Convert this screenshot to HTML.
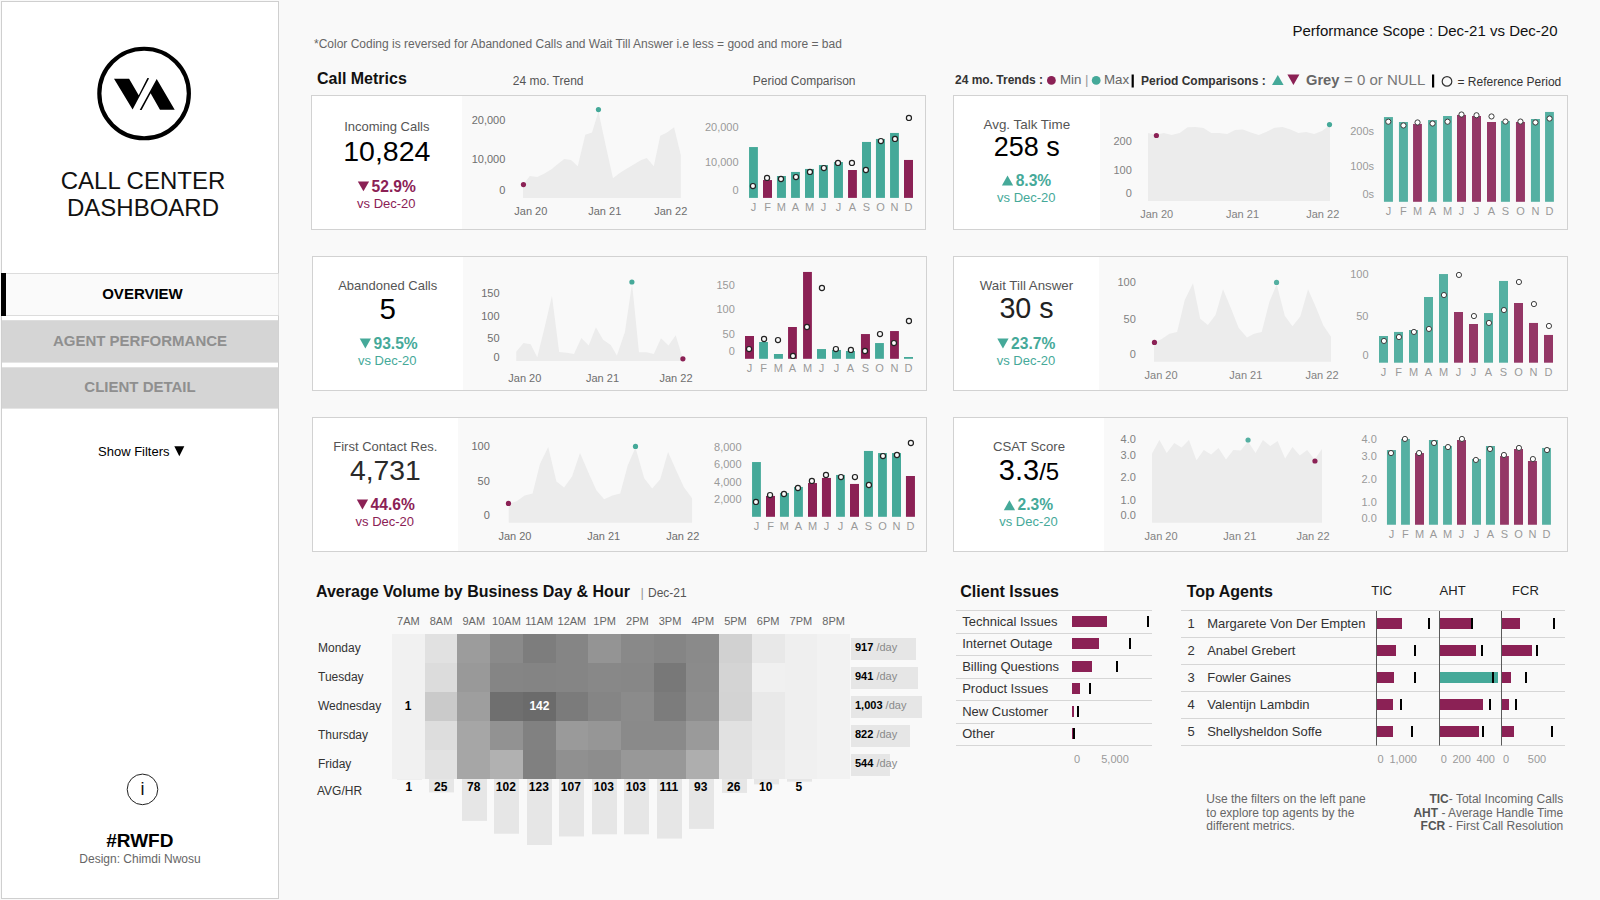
<!DOCTYPE html>
<html lang="en">
<head>
<meta charset="utf-8">
<title>Call Center Dashboard</title>
<style>
html,body{margin:0;padding:0;background:#f9f9f9;}
body{width:1600px;height:900px;overflow:hidden;font-family:"Liberation Sans",sans-serif;}
svg{display:block;font-family:"Liberation Sans",sans-serif;}
svg text{white-space:pre;}
</style>
</head>
<body>
<svg width="1600" height="900" viewBox="0 0 1600 900">
<rect x="0" y="0" width="1600" height="900" fill="#f9f9f9"/>
<rect x="1.5" y="1.5" width="277" height="897" fill="#ffffff" stroke="#cfcfcf" stroke-width="1"/>
<circle cx="144.1" cy="93.5" r="44.75" fill="none" stroke="#000" stroke-width="4.2"/>
<polygon points="114,78.7 129.1,78.7 138.7,95.3 147.4,78 149.1,78.3 132.6,109.6" fill="#000"/>
<polygon points="139.7,110 156.7,79.1 174.7,109.7 160,109.7 150.6,93.3 141.6,110" fill="#000"/>
<text x="143" y="189" font-size="24" fill="#111" text-anchor="middle">CALL CENTER</text>
<text x="143" y="216" font-size="24" fill="#111" text-anchor="middle">DASHBOARD</text>
<rect x="2" y="273.5" width="276.5" height="42" fill="#fafafa"/>
<line x1="2" y1="273.5" x2="278.5" y2="273.5" stroke="#dcdcdc" stroke-width="1"/>
<line x1="2" y1="315.5" x2="278.5" y2="315.5" stroke="#dcdcdc" stroke-width="1"/>
<rect x="1" y="273" width="5" height="43" fill="#000"/>
<text x="142.5" y="299.37" font-size="15" fill="#000" text-anchor="middle" font-weight="bold">OVERVIEW</text>
<rect x="2" y="320.2" width="276.5" height="42.4" fill="#d5d5d5"/>
<text x="140" y="346.17" font-size="15" fill="#8f8f8f" text-anchor="middle" font-weight="bold">AGENT PERFORMANCE</text>
<rect x="2" y="367.3" width="276.5" height="41.3" fill="#d5d5d5"/>
<text x="140" y="392.37" font-size="15" fill="#8f8f8f" text-anchor="middle" font-weight="bold">CLIENT DETAIL</text>
<text x="98" y="455.95" font-size="13" fill="#000">Show Filters</text>
<polygon points="174.3,446.3 184.3,446.3 179.3,456.3" fill="#000"/>
<circle cx="142.5" cy="789.4" r="15.3" fill="#fff" stroke="#222" stroke-width="1"/>
<text x="142.5" y="794.5" font-size="18" fill="#111" text-anchor="middle">i</text>
<text x="139.8" y="847.2" font-size="19" fill="#000" text-anchor="middle" font-weight="bold">#RWFD</text>
<text x="140" y="862.8" font-size="12" fill="#666" text-anchor="middle">Design: Chimdi Nwosu</text>
<text x="314" y="47.5" font-size="12" fill="#666">*Color Coding is reversed for Abandoned Calls and Wait Till Answer i.e less = good and more = bad</text>
<text x="317" y="84" font-size="16" fill="#111" font-weight="bold">Call Metrics</text>
<text x="512.8" y="85" font-size="12" fill="#555">24 mo. Trend</text>
<text x="752.8" y="85" font-size="12" fill="#555">Period Comparison</text>
<text x="1557.5" y="36" font-size="15" fill="#111" text-anchor="end">Performance Scope : Dec-21 vs Dec-20</text>
<text x="955" y="84" font-size="12" fill="#333" font-weight="bold">24 mo. Trends :</text>
<circle cx="1051.4" cy="80.4" r="4.4" fill="#8b2155"/>
<text x="1060" y="84" font-size="13.33" fill="#666">Min</text>
<text x="1085" y="84" font-size="13.33" fill="#999">|</text>
<circle cx="1096.2" cy="80.4" r="4.4" fill="#45a999"/>
<text x="1104" y="84" font-size="13.33" fill="#666">Max</text>
<rect x="1131.6" y="74.5" width="2.2" height="13" fill="#000"/>
<text x="1141" y="84.6" font-size="12" fill="#333" font-weight="bold">Period Comparisons :</text>
<polygon points="1272,85 1283.6,85 1277.8,75" fill="#45a999"/>
<polygon points="1287.4,74.6 1299.4,74.6 1293.4,85" fill="#8b2155"/>
<text x="1306" y="84.6" font-size="14.67" fill="#666" font-weight="bold">Grey</text>
<text x="1344" y="84.6" font-size="15" fill="#777">= 0 or NULL</text>
<rect x="1432" y="74.5" width="2.2" height="13" fill="#000"/>
<circle cx="1447" cy="81.4" r="4.8" fill="none" stroke="#333" stroke-width="1.2"/>
<text x="1457.5" y="85.6" font-size="12" fill="#333">= Reference Period</text>
<rect x="311.5" y="95.5" width="614" height="134" fill="#f9f9f9" stroke="#d2d2d2" stroke-width="1"/>
<rect x="312" y="96" width="150" height="133" fill="#ffffff"/>
<text x="386.8" y="130.8" font-size="13" fill="#555" text-anchor="middle">Incoming Calls</text>
<text x="386.8" y="161" font-size="28.5" fill="#000" text-anchor="middle">10,824</text>
<polygon points="357.8,181.4 369.1,181.4 363.45,191.3" fill="#8b2155"/>
<text x="371.6" y="191.8" font-size="15.6" fill="#8b2155" font-weight="bold">52.9%</text>
<text x="386.3" y="207.8" font-size="13" fill="#8b2155" text-anchor="middle">vs Dec-20</text>
<polygon points="523,197.9 523,185 529.75,176 537.25,177.05 544,173.75 551.5,169.25 557.8,164 564.25,159.05 571,159.95 577.75,166.25 585.25,134.75 592,132.5 598.45,111.5 605.5,144.5 613,178.25 619.75,173 626.5,168.8 633.7,164.45 640.75,160.25 646.75,158 653.8,166.25 660.25,135.8 667,132.5 674.05,127.25 680.8,155 680.8,197.9" fill="#ececec"/>
<circle cx="523.45" cy="184.55" r="2.6" fill="#8b2155"/>
<circle cx="598.45" cy="109.55" r="2.6" fill="#45a999"/>
<text x="505.3" y="124.14" font-size="11" fill="#6e6e6e" text-anchor="end">20,000</text>
<text x="505.3" y="163.14" font-size="11" fill="#6e6e6e" text-anchor="end">10,000</text>
<text x="505.3" y="193.89" font-size="11" fill="#6e6e6e" text-anchor="end">0</text>
<text x="530.8" y="215.19" font-size="11" fill="#6e6e6e" text-anchor="middle">Jan 20</text>
<text x="604.75" y="215.19" font-size="11" fill="#6e6e6e" text-anchor="middle">Jan 21</text>
<text x="670.75" y="215.19" font-size="11" fill="#6e6e6e" text-anchor="middle">Jan 22</text>
<rect x="749.05" y="147.05" width="8.85" height="50.85" fill="#45a999"/>
<text x="753.47" y="210.69" font-size="11" fill="#9a9a9a" text-anchor="middle">J</text>
<rect x="763" y="180.05" width="9" height="17.85" fill="#8b2155"/>
<text x="767.5" y="210.69" font-size="11" fill="#9a9a9a" text-anchor="middle">F</text>
<rect x="776.95" y="176" width="9" height="21.9" fill="#45a999"/>
<text x="781.45" y="210.69" font-size="11" fill="#9a9a9a" text-anchor="middle">M</text>
<rect x="791.05" y="171.95" width="8.85" height="25.95" fill="#45a999"/>
<text x="795.47" y="210.69" font-size="11" fill="#9a9a9a" text-anchor="middle">A</text>
<rect x="805" y="168.95" width="9" height="28.95" fill="#45a999"/>
<text x="809.5" y="210.69" font-size="11" fill="#9a9a9a" text-anchor="middle">M</text>
<rect x="818.95" y="165.05" width="9" height="32.85" fill="#45a999"/>
<text x="823.45" y="210.69" font-size="11" fill="#9a9a9a" text-anchor="middle">J</text>
<rect x="833.95" y="162.05" width="9" height="35.85" fill="#45a999"/>
<text x="838.45" y="210.69" font-size="11" fill="#9a9a9a" text-anchor="middle">J</text>
<rect x="848.05" y="170" width="8.85" height="27.9" fill="#8b2155"/>
<text x="852.47" y="210.69" font-size="11" fill="#9a9a9a" text-anchor="middle">A</text>
<rect x="862" y="141.95" width="9" height="55.95" fill="#45a999"/>
<text x="866.5" y="210.69" font-size="11" fill="#9a9a9a" text-anchor="middle">S</text>
<rect x="875.95" y="138.95" width="9" height="58.95" fill="#45a999"/>
<text x="880.45" y="210.69" font-size="11" fill="#9a9a9a" text-anchor="middle">O</text>
<rect x="890.05" y="132.95" width="8.85" height="64.95" fill="#45a999"/>
<text x="894.47" y="210.69" font-size="11" fill="#9a9a9a" text-anchor="middle">N</text>
<rect x="904" y="159.95" width="9" height="37.95" fill="#8b2155"/>
<text x="908.5" y="210.69" font-size="11" fill="#9a9a9a" text-anchor="middle">D</text>
<circle cx="752.95" cy="186.05" r="2.55" fill="#fbfbfb" stroke="#222" stroke-width="1.2"/>
<circle cx="767.05" cy="177.95" r="2.55" fill="#fbfbfb" stroke="#222" stroke-width="1.2"/>
<circle cx="781" cy="179" r="2.55" fill="#fbfbfb" stroke="#222" stroke-width="1.2"/>
<circle cx="796" cy="177.05" r="2.55" fill="#fbfbfb" stroke="#222" stroke-width="1.2"/>
<circle cx="809.95" cy="171.95" r="2.55" fill="#fbfbfb" stroke="#222" stroke-width="1.2"/>
<circle cx="823.9" cy="168.05" r="2.55" fill="#fbfbfb" stroke="#222" stroke-width="1.2"/>
<circle cx="838" cy="162.95" r="2.55" fill="#fbfbfb" stroke="#222" stroke-width="1.2"/>
<circle cx="851.95" cy="162.95" r="2.55" fill="#fbfbfb" stroke="#222" stroke-width="1.2"/>
<circle cx="865.9" cy="170" r="2.55" fill="#fbfbfb" stroke="#222" stroke-width="1.2"/>
<circle cx="880.9" cy="141.05" r="2.55" fill="#fbfbfb" stroke="#222" stroke-width="1.2"/>
<circle cx="895" cy="138.95" r="2.55" fill="#fbfbfb" stroke="#222" stroke-width="1.2"/>
<circle cx="908.95" cy="117.95" r="2.55" fill="#fbfbfb" stroke="#222" stroke-width="1.2"/>
<text x="738.55" y="131.19" font-size="11" fill="#9a9a9a" text-anchor="end">20,000</text>
<text x="738.55" y="166.14" font-size="11" fill="#9a9a9a" text-anchor="end">10,000</text>
<text x="738.55" y="194.19" font-size="11" fill="#9a9a9a" text-anchor="end">0</text>
<rect x="312.5" y="256.5" width="614" height="134" fill="#f9f9f9" stroke="#d2d2d2" stroke-width="1"/>
<rect x="313" y="257" width="150" height="133" fill="#ffffff"/>
<text x="387.7" y="289.5" font-size="13" fill="#555" text-anchor="middle">Abandoned Calls</text>
<text x="387.7" y="318.7" font-size="29.5" fill="#000" text-anchor="middle">5</text>
<polygon points="359.7,338.6 371,338.6 365.35,348.5" fill="#45a999"/>
<text x="373.5" y="349" font-size="15.6" fill="#45a999" font-weight="bold">93.5%</text>
<text x="387.2" y="365" font-size="13" fill="#45a999" text-anchor="middle">vs Dec-20</text>
<polygon points="516.25,361.05 516.25,351.75 523.45,343.05 530.65,344.25 537.25,357.3 544.9,326.25 551.95,295.8 559.15,352.05 566.95,352.8 574,354 581.35,337.95 588.7,345.45 595.9,327.3 603.1,339.75 610.75,345 616.9,355.5 624.85,332.25 632.05,283.5 638.95,352.2 646.6,352.2 653.8,354 661,338.25 668.5,345.45 675.7,335.25 682.75,358.5 682.75,361.05" fill="#ececec"/>
<circle cx="631.9" cy="282" r="2.6" fill="#45a999"/>
<circle cx="682.9" cy="358.8" r="2.6" fill="#8b2155"/>
<text x="499.6" y="297.19" font-size="11" fill="#6e6e6e" text-anchor="end">150</text>
<text x="499.6" y="320.44" font-size="11" fill="#6e6e6e" text-anchor="end">100</text>
<text x="499.6" y="342.19" font-size="11" fill="#6e6e6e" text-anchor="end">50</text>
<text x="499.6" y="361.39" font-size="11" fill="#6e6e6e" text-anchor="end">0</text>
<text x="524.8" y="381.94" font-size="11" fill="#6e6e6e" text-anchor="middle">Jan 20</text>
<text x="602.5" y="381.94" font-size="11" fill="#6e6e6e" text-anchor="middle">Jan 21</text>
<text x="676" y="381.94" font-size="11" fill="#6e6e6e" text-anchor="middle">Jan 22</text>
<rect x="745" y="336" width="9" height="22.8" fill="#8b2155"/>
<text x="749.5" y="371.74" font-size="11" fill="#9a9a9a" text-anchor="middle">J</text>
<rect x="759.1" y="342" width="8.85" height="16.8" fill="#45a999"/>
<text x="763.53" y="371.74" font-size="11" fill="#9a9a9a" text-anchor="middle">F</text>
<rect x="773.95" y="354" width="9" height="4.8" fill="#45a999"/>
<text x="778.45" y="371.74" font-size="11" fill="#9a9a9a" text-anchor="middle">M</text>
<rect x="788.05" y="327" width="8.85" height="31.8" fill="#8b2155"/>
<text x="792.47" y="371.74" font-size="11" fill="#9a9a9a" text-anchor="middle">A</text>
<rect x="803.05" y="271.95" width="8.85" height="86.85" fill="#8b2155"/>
<text x="807.47" y="371.74" font-size="11" fill="#9a9a9a" text-anchor="middle">M</text>
<rect x="817" y="349.05" width="9" height="9.75" fill="#45a999"/>
<text x="821.5" y="371.74" font-size="11" fill="#9a9a9a" text-anchor="middle">J</text>
<rect x="832" y="349.95" width="9" height="8.85" fill="#45a999"/>
<text x="836.5" y="371.74" font-size="11" fill="#9a9a9a" text-anchor="middle">J</text>
<rect x="845.95" y="351" width="9" height="7.8" fill="#45a999"/>
<text x="850.45" y="371.74" font-size="11" fill="#9a9a9a" text-anchor="middle">A</text>
<rect x="860.95" y="334.05" width="9" height="24.75" fill="#8b2155"/>
<text x="865.45" y="371.74" font-size="11" fill="#9a9a9a" text-anchor="middle">S</text>
<rect x="875.05" y="343.05" width="8.85" height="15.75" fill="#45a999"/>
<text x="879.47" y="371.74" font-size="11" fill="#9a9a9a" text-anchor="middle">O</text>
<rect x="890.05" y="331.05" width="8.85" height="27.75" fill="#8b2155"/>
<text x="894.47" y="371.74" font-size="11" fill="#9a9a9a" text-anchor="middle">N</text>
<rect x="904" y="357" width="9" height="1.8" fill="#45a999"/>
<text x="908.5" y="371.74" font-size="11" fill="#9a9a9a" text-anchor="middle">D</text>
<circle cx="749.05" cy="349.05" r="2.55" fill="#fbfbfb" stroke="#222" stroke-width="1.2"/>
<circle cx="764.05" cy="339" r="2.55" fill="#fbfbfb" stroke="#222" stroke-width="1.2"/>
<circle cx="778" cy="340.05" r="2.55" fill="#fbfbfb" stroke="#222" stroke-width="1.2"/>
<circle cx="793" cy="355.95" r="2.55" fill="#fbfbfb" stroke="#222" stroke-width="1.2"/>
<circle cx="806.95" cy="327" r="2.55" fill="#fbfbfb" stroke="#222" stroke-width="1.2"/>
<circle cx="821.95" cy="288" r="2.55" fill="#fbfbfb" stroke="#222" stroke-width="1.2"/>
<circle cx="835.9" cy="349.05" r="2.55" fill="#fbfbfb" stroke="#222" stroke-width="1.2"/>
<circle cx="850.9" cy="349.95" r="2.55" fill="#fbfbfb" stroke="#222" stroke-width="1.2"/>
<circle cx="865" cy="351" r="2.55" fill="#fbfbfb" stroke="#222" stroke-width="1.2"/>
<circle cx="880" cy="334.05" r="2.55" fill="#fbfbfb" stroke="#222" stroke-width="1.2"/>
<circle cx="893.95" cy="343.05" r="2.55" fill="#fbfbfb" stroke="#222" stroke-width="1.2"/>
<circle cx="908.95" cy="321" r="2.55" fill="#fbfbfb" stroke="#222" stroke-width="1.2"/>
<text x="734.8" y="289.39" font-size="11" fill="#9a9a9a" text-anchor="end">150</text>
<text x="734.8" y="313.24" font-size="11" fill="#9a9a9a" text-anchor="end">100</text>
<text x="734.8" y="338.44" font-size="11" fill="#9a9a9a" text-anchor="end">50</text>
<text x="734.8" y="355.39" font-size="11" fill="#9a9a9a" text-anchor="end">0</text>
<rect x="312.5" y="417.5" width="614" height="134" fill="#f9f9f9" stroke="#d2d2d2" stroke-width="1"/>
<rect x="313" y="418" width="145" height="133" fill="#ffffff"/>
<text x="385.3" y="450.8" font-size="13" fill="#555" text-anchor="middle">First Contact Res.</text>
<text x="385.3" y="480" font-size="28.3" fill="#2a2a2a" text-anchor="middle">4,731</text>
<polygon points="356.8,499.6 368.1,499.6 362.45,509.5" fill="#8b2155"/>
<text x="370.6" y="510" font-size="15.6" fill="#8b2155" font-weight="bold">44.6%</text>
<text x="384.8" y="525.8" font-size="13" fill="#8b2155" text-anchor="middle">vs Dec-20</text>
<polygon points="508.75,522.8 508.75,503.75 516.7,501.2 524.65,495.5 532.6,493.55 539.95,464 548.2,447.05 556.45,481.55 564.1,487.55 572.05,476.45 580,453.05 587.95,471.5 596.35,490.25 604.15,499.25 612.4,495.5 620.2,493.55 627.7,465.5 635.5,447.5 644.2,478.25 652.15,488.45 660.1,479.45 668.05,452 676,470 683.95,487.25 692.05,498.2 692.05,522.8" fill="#ececec"/>
<circle cx="508.45" cy="503.45" r="2.6" fill="#8b2155"/>
<circle cx="635.5" cy="446.45" r="2.6" fill="#45a999"/>
<text x="489.85" y="450.39" font-size="11" fill="#6e6e6e" text-anchor="end">100</text>
<text x="489.85" y="485.49" font-size="11" fill="#6e6e6e" text-anchor="end">50</text>
<text x="489.85" y="519.24" font-size="11" fill="#6e6e6e" text-anchor="end">0</text>
<text x="514.9" y="540.39" font-size="11" fill="#6e6e6e" text-anchor="middle">Jan 20</text>
<text x="603.7" y="540.39" font-size="11" fill="#6e6e6e" text-anchor="middle">Jan 21</text>
<text x="682.75" y="540.39" font-size="11" fill="#6e6e6e" text-anchor="middle">Jan 22</text>
<rect x="752.05" y="462.05" width="8.85" height="54.75" fill="#45a999"/>
<text x="756.47" y="530.19" font-size="11" fill="#9a9a9a" text-anchor="middle">J</text>
<rect x="766" y="495.95" width="9" height="20.85" fill="#8b2155"/>
<text x="770.5" y="530.19" font-size="11" fill="#9a9a9a" text-anchor="middle">F</text>
<rect x="779.95" y="492.95" width="9" height="23.85" fill="#45a999"/>
<text x="784.45" y="530.19" font-size="11" fill="#9a9a9a" text-anchor="middle">M</text>
<rect x="794.05" y="486.95" width="8.85" height="29.85" fill="#45a999"/>
<text x="798.47" y="530.19" font-size="11" fill="#9a9a9a" text-anchor="middle">A</text>
<rect x="808" y="483.05" width="9" height="33.75" fill="#8b2155"/>
<text x="812.5" y="530.19" font-size="11" fill="#9a9a9a" text-anchor="middle">M</text>
<rect x="821.95" y="477.95" width="9" height="38.85" fill="#8b2155"/>
<text x="826.45" y="530.19" font-size="11" fill="#9a9a9a" text-anchor="middle">J</text>
<rect x="836.05" y="474.95" width="8.85" height="41.85" fill="#45a999"/>
<text x="840.47" y="530.19" font-size="11" fill="#9a9a9a" text-anchor="middle">J</text>
<rect x="850" y="483.95" width="9" height="32.85" fill="#8b2155"/>
<text x="854.5" y="530.19" font-size="11" fill="#9a9a9a" text-anchor="middle">A</text>
<rect x="863.95" y="450.95" width="9" height="65.85" fill="#45a999"/>
<text x="868.45" y="530.19" font-size="11" fill="#9a9a9a" text-anchor="middle">S</text>
<rect x="878.05" y="453.05" width="8.85" height="63.75" fill="#45a999"/>
<text x="882.47" y="530.19" font-size="11" fill="#9a9a9a" text-anchor="middle">O</text>
<rect x="892" y="453.05" width="9" height="63.75" fill="#45a999"/>
<text x="896.5" y="530.19" font-size="11" fill="#9a9a9a" text-anchor="middle">N</text>
<rect x="905.95" y="476" width="9" height="40.8" fill="#8b2155"/>
<text x="910.45" y="530.19" font-size="11" fill="#9a9a9a" text-anchor="middle">D</text>
<circle cx="755.95" cy="501.95" r="2.55" fill="#fbfbfb" stroke="#222" stroke-width="1.2"/>
<circle cx="770.05" cy="495.05" r="2.55" fill="#fbfbfb" stroke="#222" stroke-width="1.2"/>
<circle cx="784" cy="494" r="2.55" fill="#fbfbfb" stroke="#222" stroke-width="1.2"/>
<circle cx="797.95" cy="488" r="2.55" fill="#fbfbfb" stroke="#222" stroke-width="1.2"/>
<circle cx="811.9" cy="480.95" r="2.55" fill="#fbfbfb" stroke="#222" stroke-width="1.2"/>
<circle cx="826" cy="474.95" r="2.55" fill="#fbfbfb" stroke="#222" stroke-width="1.2"/>
<circle cx="841" cy="477.05" r="2.55" fill="#fbfbfb" stroke="#222" stroke-width="1.2"/>
<circle cx="854.95" cy="477.05" r="2.55" fill="#fbfbfb" stroke="#222" stroke-width="1.2"/>
<circle cx="868.9" cy="485" r="2.55" fill="#fbfbfb" stroke="#222" stroke-width="1.2"/>
<circle cx="883" cy="456.05" r="2.55" fill="#fbfbfb" stroke="#222" stroke-width="1.2"/>
<circle cx="896.95" cy="455" r="2.55" fill="#fbfbfb" stroke="#222" stroke-width="1.2"/>
<circle cx="910.9" cy="443" r="2.55" fill="#fbfbfb" stroke="#222" stroke-width="1.2"/>
<text x="741.55" y="451.14" font-size="11" fill="#9a9a9a" text-anchor="end">8,000</text>
<text x="741.55" y="468.39" font-size="11" fill="#9a9a9a" text-anchor="end">6,000</text>
<text x="741.55" y="485.94" font-size="11" fill="#9a9a9a" text-anchor="end">4,000</text>
<text x="741.55" y="503.19" font-size="11" fill="#9a9a9a" text-anchor="end">2,000</text>
<rect x="953.5" y="95.5" width="614" height="134" fill="#f9f9f9" stroke="#d2d2d2" stroke-width="1"/>
<rect x="954" y="96" width="146" height="133" fill="#ffffff"/>
<text x="1026.8" y="128.7" font-size="13.4" fill="#555" text-anchor="middle">Avg. Talk Time</text>
<text x="1026.8" y="155.8" font-size="27" fill="#000" text-anchor="middle">258 s</text>
<polygon points="1001.9,185.4 1013.2,185.4 1007.55,175.4" fill="#45a999"/>
<text x="1015.7" y="185.6" font-size="15.6" fill="#45a999" font-weight="bold">8.3%</text>
<text x="1026.3" y="201.6" font-size="13" fill="#45a999" text-anchor="middle">vs Dec-20</text>
<polygon points="1148,200.9 1148,132.95 1155.95,134.75 1163.9,132.95 1171.7,135.05 1179.65,132.95 1187.6,127.25 1195.55,126.95 1203.5,128 1211.3,132.95 1219.25,132.95 1227.2,134 1235,129.95 1242.95,129.5 1250.9,132.5 1258.7,135.05 1266.65,131.75 1274.6,127.7 1282.55,126.95 1290.5,129.5 1298.3,132.95 1306.25,132.05 1314.2,134 1322,131 1329.95,125 1329.95,200.9" fill="#ececec"/>
<circle cx="1156.4" cy="135.5" r="2.6" fill="#8b2155"/>
<circle cx="1329.5" cy="124.55" r="2.6" fill="#45a999"/>
<text x="1131.8" y="145.14" font-size="11" fill="#828282" text-anchor="end">200</text>
<text x="1131.8" y="173.94" font-size="11" fill="#828282" text-anchor="end">100</text>
<text x="1131.8" y="197.19" font-size="11" fill="#828282" text-anchor="end">0</text>
<text x="1156.7" y="218.19" font-size="11" fill="#828282" text-anchor="middle">Jan 20</text>
<text x="1242.5" y="218.19" font-size="11" fill="#828282" text-anchor="middle">Jan 21</text>
<text x="1322.75" y="218.19" font-size="11" fill="#828282" text-anchor="middle">Jan 22</text>
<rect x="1383.95" y="117.05" width="9" height="84.75" fill="#55b0a2"/>
<text x="1388.45" y="215.19" font-size="11" fill="#9a9a9a" text-anchor="middle">J</text>
<rect x="1398.95" y="122" width="9" height="79.8" fill="#55b0a2"/>
<text x="1403.45" y="215.19" font-size="11" fill="#9a9a9a" text-anchor="middle">F</text>
<rect x="1413.05" y="123.95" width="8.85" height="77.85" fill="#943766"/>
<text x="1417.47" y="215.19" font-size="11" fill="#9a9a9a" text-anchor="middle">M</text>
<rect x="1428.05" y="120.05" width="8.85" height="81.75" fill="#55b0a2"/>
<text x="1432.47" y="215.19" font-size="11" fill="#9a9a9a" text-anchor="middle">A</text>
<rect x="1443.05" y="116" width="8.85" height="85.8" fill="#55b0a2"/>
<text x="1447.47" y="215.19" font-size="11" fill="#9a9a9a" text-anchor="middle">M</text>
<rect x="1457" y="114.95" width="9" height="86.85" fill="#943766"/>
<text x="1461.5" y="215.19" font-size="11" fill="#9a9a9a" text-anchor="middle">J</text>
<rect x="1472" y="116" width="9" height="85.8" fill="#943766"/>
<text x="1476.5" y="215.19" font-size="11" fill="#9a9a9a" text-anchor="middle">J</text>
<rect x="1487" y="122" width="9" height="79.8" fill="#943766"/>
<text x="1491.5" y="215.19" font-size="11" fill="#9a9a9a" text-anchor="middle">A</text>
<rect x="1500.95" y="120.95" width="9" height="80.85" fill="#55b0a2"/>
<text x="1505.45" y="215.19" font-size="11" fill="#9a9a9a" text-anchor="middle">S</text>
<rect x="1515.95" y="122" width="9" height="79.8" fill="#943766"/>
<text x="1520.45" y="215.19" font-size="11" fill="#9a9a9a" text-anchor="middle">O</text>
<rect x="1530.95" y="119" width="9" height="82.8" fill="#55b0a2"/>
<text x="1535.45" y="215.19" font-size="11" fill="#9a9a9a" text-anchor="middle">N</text>
<rect x="1545.05" y="111.95" width="8.85" height="89.85" fill="#55b0a2"/>
<text x="1549.47" y="215.19" font-size="11" fill="#9a9a9a" text-anchor="middle">D</text>
<circle cx="1388.3" cy="121.7" r="2.6" fill="#fff" stroke="#333" stroke-width="0.95"/>
<circle cx="1403.45" cy="125.45" r="2.6" fill="#fff" stroke="#333" stroke-width="0.95"/>
<circle cx="1417.55" cy="122.45" r="2.6" fill="#fff" stroke="#333" stroke-width="0.95"/>
<circle cx="1432.55" cy="123.5" r="2.6" fill="#fff" stroke="#333" stroke-width="0.95"/>
<circle cx="1447.55" cy="121.7" r="2.6" fill="#fff" stroke="#333" stroke-width="0.95"/>
<circle cx="1461.5" cy="114.5" r="2.6" fill="#fff" stroke="#333" stroke-width="0.95"/>
<circle cx="1476.5" cy="115.25" r="2.6" fill="#fff" stroke="#333" stroke-width="0.95"/>
<circle cx="1491.5" cy="116.45" r="2.6" fill="#fff" stroke="#333" stroke-width="0.95"/>
<circle cx="1505.45" cy="121.55" r="2.6" fill="#fff" stroke="#333" stroke-width="0.95"/>
<circle cx="1520.45" cy="121.55" r="2.6" fill="#fff" stroke="#333" stroke-width="0.95"/>
<circle cx="1535.45" cy="122.45" r="2.6" fill="#fff" stroke="#333" stroke-width="0.95"/>
<circle cx="1549.55" cy="118.55" r="2.6" fill="#fff" stroke="#333" stroke-width="0.95"/>
<text x="1374.05" y="135.39" font-size="11" fill="#9a9a9a" text-anchor="end">200s</text>
<text x="1374.05" y="170.19" font-size="11" fill="#9a9a9a" text-anchor="end">100s</text>
<text x="1374.05" y="198.24" font-size="11" fill="#9a9a9a" text-anchor="end">0s</text>
<rect x="953.5" y="256.5" width="614" height="134" fill="#f9f9f9" stroke="#d2d2d2" stroke-width="1"/>
<rect x="954" y="257" width="145" height="133" fill="#ffffff"/>
<text x="1026.5" y="289.5" font-size="13.3" fill="#555" text-anchor="middle">Wait Till Answer</text>
<text x="1026.5" y="317.8" font-size="28.7" fill="#222" text-anchor="middle">30 s</text>
<polygon points="997.3,338.6 1008.6,338.6 1002.95,348.5" fill="#45a999"/>
<text x="1011.1" y="349" font-size="15.6" fill="#45a999" font-weight="bold">23.7%</text>
<text x="1026" y="364.5" font-size="13" fill="#45a999" text-anchor="middle">vs Dec-20</text>
<polygon points="1154,361.8 1154,342.75 1161.65,339 1169.45,333.75 1177.1,331.95 1184.75,300 1193,283.2 1200.2,318.75 1207.85,325.05 1215.5,315 1223,289.2 1230.95,308.25 1238.6,327.75 1247,337.5 1254.05,333.75 1261.7,331.95 1269.5,301.5 1276.7,284.25 1284.8,315.75 1292.45,326.25 1300.25,316.5 1308.05,289.2 1315.7,306.75 1323.35,325.5 1331,336.75 1331,361.8" fill="#ececec"/>
<circle cx="1154.45" cy="342.45" r="2.6" fill="#8b2155"/>
<circle cx="1276.55" cy="282.45" r="2.6" fill="#55b0a2"/>
<text x="1135.85" y="286.39" font-size="11" fill="#828282" text-anchor="end">100</text>
<text x="1135.85" y="323.44" font-size="11" fill="#828282" text-anchor="end">50</text>
<text x="1135.85" y="358.24" font-size="11" fill="#828282" text-anchor="end">0</text>
<text x="1161.05" y="379.39" font-size="11" fill="#828282" text-anchor="middle">Jan 20</text>
<text x="1245.8" y="379.39" font-size="11" fill="#828282" text-anchor="middle">Jan 21</text>
<text x="1322" y="379.39" font-size="11" fill="#828282" text-anchor="middle">Jan 22</text>
<rect x="1379" y="336" width="9" height="26.7" fill="#55b0a2"/>
<text x="1383.5" y="375.94" font-size="11" fill="#9a9a9a" text-anchor="middle">J</text>
<rect x="1394" y="331.95" width="9" height="30.75" fill="#55b0a2"/>
<text x="1398.5" y="375.94" font-size="11" fill="#9a9a9a" text-anchor="middle">F</text>
<rect x="1409" y="330" width="9" height="32.7" fill="#55b0a2"/>
<text x="1413.5" y="375.94" font-size="11" fill="#9a9a9a" text-anchor="middle">M</text>
<rect x="1424" y="297" width="9" height="65.7" fill="#55b0a2"/>
<text x="1428.5" y="375.94" font-size="11" fill="#9a9a9a" text-anchor="middle">A</text>
<rect x="1439" y="274.05" width="9" height="88.65" fill="#55b0a2"/>
<text x="1443.5" y="375.94" font-size="11" fill="#9a9a9a" text-anchor="middle">M</text>
<rect x="1454" y="312" width="9" height="50.7" fill="#943766"/>
<text x="1458.5" y="375.94" font-size="11" fill="#9a9a9a" text-anchor="middle">J</text>
<rect x="1469" y="324" width="9" height="38.7" fill="#943766"/>
<text x="1473.5" y="375.94" font-size="11" fill="#9a9a9a" text-anchor="middle">J</text>
<rect x="1484" y="313.05" width="9" height="49.65" fill="#55b0a2"/>
<text x="1488.5" y="375.94" font-size="11" fill="#9a9a9a" text-anchor="middle">A</text>
<rect x="1499" y="280.95" width="9" height="81.75" fill="#55b0a2"/>
<text x="1503.5" y="375.94" font-size="11" fill="#9a9a9a" text-anchor="middle">S</text>
<rect x="1514" y="303" width="9" height="59.7" fill="#943766"/>
<text x="1518.5" y="375.94" font-size="11" fill="#9a9a9a" text-anchor="middle">O</text>
<rect x="1529" y="322.95" width="9" height="39.75" fill="#943766"/>
<text x="1533.5" y="375.94" font-size="11" fill="#9a9a9a" text-anchor="middle">N</text>
<rect x="1544" y="334.95" width="9" height="27.75" fill="#943766"/>
<text x="1548.5" y="375.94" font-size="11" fill="#9a9a9a" text-anchor="middle">D</text>
<circle cx="1383.95" cy="340.95" r="2.6" fill="#fff" stroke="#333" stroke-width="0.95"/>
<circle cx="1398.95" cy="337.05" r="2.6" fill="#fff" stroke="#333" stroke-width="0.95"/>
<circle cx="1413.95" cy="331.95" r="2.6" fill="#fff" stroke="#333" stroke-width="0.95"/>
<circle cx="1428.95" cy="328.95" r="2.6" fill="#fff" stroke="#333" stroke-width="0.95"/>
<circle cx="1443.95" cy="295.05" r="2.6" fill="#fff" stroke="#333" stroke-width="0.95"/>
<circle cx="1458.95" cy="274.95" r="2.6" fill="#fff" stroke="#333" stroke-width="0.95"/>
<circle cx="1473.95" cy="316.05" r="2.6" fill="#fff" stroke="#333" stroke-width="0.95"/>
<circle cx="1488.95" cy="322.95" r="2.6" fill="#fff" stroke="#333" stroke-width="0.95"/>
<circle cx="1503.95" cy="310.05" r="2.6" fill="#fff" stroke="#333" stroke-width="0.95"/>
<circle cx="1518.95" cy="282" r="2.6" fill="#fff" stroke="#333" stroke-width="0.95"/>
<circle cx="1533.95" cy="304.05" r="2.6" fill="#fff" stroke="#333" stroke-width="0.95"/>
<circle cx="1548.95" cy="325.95" r="2.6" fill="#fff" stroke="#333" stroke-width="0.95"/>
<text x="1368.5" y="278.44" font-size="11" fill="#9a9a9a" text-anchor="end">100</text>
<text x="1368.5" y="319.69" font-size="11" fill="#9a9a9a" text-anchor="end">50</text>
<text x="1368.5" y="359.14" font-size="11" fill="#9a9a9a" text-anchor="end">0</text>
<rect x="953.5" y="417.5" width="614" height="134" fill="#f9f9f9" stroke="#d2d2d2" stroke-width="1"/>
<rect x="954" y="418" width="150" height="133" fill="#ffffff"/>
<text x="1029" y="451" font-size="13.2" fill="#555" text-anchor="middle">CSAT Score</text>
<text x="1029" y="479.6" font-size="29" fill="#000" text-anchor="middle">3.3<tspan font-size="24">/5</tspan></text>
<polygon points="1003.8,510.2 1015.1,510.2 1009.45,500.2" fill="#45a999"/>
<text x="1017.6" y="510.4" font-size="15.6" fill="#45a999" font-weight="bold">2.3%</text>
<text x="1028.5" y="525.7" font-size="13" fill="#45a999" text-anchor="middle">vs Dec-20</text>
<polygon points="1152.05,522.8 1152.05,453.5 1159.4,440 1166.75,453.05 1174.25,443 1181.6,447.5 1188.95,440 1196.45,460.25 1203.8,450.05 1211.15,454.55 1218.5,447.95 1226,459.5 1233.35,450.05 1240.7,450.5 1248.05,441.5 1255.55,453.05 1262.9,440 1270.25,446 1277.6,441.05 1285.1,458.45 1292.45,447.05 1299.8,455.45 1307.15,450.05 1314.65,459.5 1322,449 1322,522.8" fill="#ececec"/>
<circle cx="1248.05" cy="440" r="2.6" fill="#55b0a2"/>
<circle cx="1314.95" cy="461" r="2.6" fill="#8b2155"/>
<text x="1135.85" y="443.49" font-size="11" fill="#828282" text-anchor="end">4.0</text>
<text x="1135.85" y="459.39" font-size="11" fill="#828282" text-anchor="end">3.0</text>
<text x="1135.85" y="481.44" font-size="11" fill="#828282" text-anchor="end">2.0</text>
<text x="1135.85" y="503.94" font-size="11" fill="#828282" text-anchor="end">1.0</text>
<text x="1135.85" y="519.24" font-size="11" fill="#828282" text-anchor="end">0.0</text>
<text x="1161.05" y="540.39" font-size="11" fill="#828282" text-anchor="middle">Jan 20</text>
<text x="1239.8" y="540.39" font-size="11" fill="#828282" text-anchor="middle">Jan 21</text>
<text x="1313" y="540.39" font-size="11" fill="#828282" text-anchor="middle">Jan 22</text>
<rect x="1386.95" y="450.05" width="9" height="74.7" fill="#55b0a2"/>
<text x="1391.45" y="537.99" font-size="11" fill="#9a9a9a" text-anchor="middle">J</text>
<rect x="1401.05" y="438.95" width="8.85" height="85.8" fill="#55b0a2"/>
<text x="1405.47" y="537.99" font-size="11" fill="#9a9a9a" text-anchor="middle">F</text>
<rect x="1415" y="453.05" width="9" height="71.7" fill="#943766"/>
<text x="1419.5" y="537.99" font-size="11" fill="#9a9a9a" text-anchor="middle">M</text>
<rect x="1428.95" y="440" width="9" height="84.75" fill="#55b0a2"/>
<text x="1433.45" y="537.99" font-size="11" fill="#9a9a9a" text-anchor="middle">A</text>
<rect x="1443.05" y="446" width="8.85" height="78.75" fill="#55b0a2"/>
<text x="1447.47" y="537.99" font-size="11" fill="#9a9a9a" text-anchor="middle">M</text>
<rect x="1457" y="440" width="9" height="84.75" fill="#943766"/>
<text x="1461.5" y="537.99" font-size="11" fill="#9a9a9a" text-anchor="middle">J</text>
<rect x="1472" y="459.05" width="9" height="65.7" fill="#55b0a2"/>
<text x="1476.5" y="537.99" font-size="11" fill="#9a9a9a" text-anchor="middle">J</text>
<rect x="1485.95" y="446" width="9" height="78.75" fill="#55b0a2"/>
<text x="1490.45" y="537.99" font-size="11" fill="#9a9a9a" text-anchor="middle">A</text>
<rect x="1500.05" y="456.05" width="8.85" height="68.7" fill="#943766"/>
<text x="1504.47" y="537.99" font-size="11" fill="#9a9a9a" text-anchor="middle">S</text>
<rect x="1514" y="449" width="9" height="75.75" fill="#943766"/>
<text x="1518.5" y="537.99" font-size="11" fill="#9a9a9a" text-anchor="middle">O</text>
<rect x="1527.95" y="461" width="9" height="63.75" fill="#943766"/>
<text x="1532.45" y="537.99" font-size="11" fill="#9a9a9a" text-anchor="middle">N</text>
<rect x="1542.05" y="447.95" width="8.85" height="76.8" fill="#55b0a2"/>
<text x="1546.47" y="537.99" font-size="11" fill="#9a9a9a" text-anchor="middle">D</text>
<circle cx="1391" cy="453.05" r="2.6" fill="#fff" stroke="#333" stroke-width="0.95"/>
<circle cx="1404.95" cy="438.95" r="2.6" fill="#fff" stroke="#333" stroke-width="0.95"/>
<circle cx="1419.05" cy="453.05" r="2.6" fill="#fff" stroke="#333" stroke-width="0.95"/>
<circle cx="1434.05" cy="443" r="2.6" fill="#fff" stroke="#333" stroke-width="0.95"/>
<circle cx="1448" cy="447.05" r="2.6" fill="#fff" stroke="#333" stroke-width="0.95"/>
<circle cx="1461.95" cy="438.95" r="2.6" fill="#fff" stroke="#333" stroke-width="0.95"/>
<circle cx="1475.9" cy="459.95" r="2.6" fill="#fff" stroke="#333" stroke-width="0.95"/>
<circle cx="1490" cy="449" r="2.6" fill="#fff" stroke="#333" stroke-width="0.95"/>
<circle cx="1503.95" cy="455" r="2.6" fill="#fff" stroke="#333" stroke-width="0.95"/>
<circle cx="1518.95" cy="447.95" r="2.6" fill="#fff" stroke="#333" stroke-width="0.95"/>
<circle cx="1532.9" cy="459.05" r="2.6" fill="#fff" stroke="#333" stroke-width="0.95"/>
<circle cx="1547" cy="450.05" r="2.6" fill="#fff" stroke="#333" stroke-width="0.95"/>
<text x="1376.75" y="443.19" font-size="11" fill="#9a9a9a" text-anchor="end">4.0</text>
<text x="1376.75" y="460.14" font-size="11" fill="#9a9a9a" text-anchor="end">3.0</text>
<text x="1376.75" y="482.94" font-size="11" fill="#9a9a9a" text-anchor="end">2.0</text>
<text x="1376.75" y="505.89" font-size="11" fill="#9a9a9a" text-anchor="end">1.0</text>
<text x="1376.75" y="521.94" font-size="11" fill="#9a9a9a" text-anchor="end">0.0</text>
<text x="316" y="596.5" font-size="16" fill="#111" font-weight="bold">Average Volume by Business Day &amp; Hour</text>
<text x="640.5" y="597" font-size="13" fill="#999">|</text>
<text x="648" y="597" font-size="12" fill="#555">Dec-21</text>
<text x="408.36" y="624.94" font-size="11" fill="#666" text-anchor="middle">7AM</text>
<text x="441.06" y="624.94" font-size="11" fill="#666" text-anchor="middle">8AM</text>
<text x="473.77" y="624.94" font-size="11" fill="#666" text-anchor="middle">9AM</text>
<text x="506.49" y="624.94" font-size="11" fill="#666" text-anchor="middle">10AM</text>
<text x="539.19" y="624.94" font-size="11" fill="#666" text-anchor="middle">11AM</text>
<text x="571.9" y="624.94" font-size="11" fill="#666" text-anchor="middle">12AM</text>
<text x="604.62" y="624.94" font-size="11" fill="#666" text-anchor="middle">1PM</text>
<text x="637.33" y="624.94" font-size="11" fill="#666" text-anchor="middle">2PM</text>
<text x="670.04" y="624.94" font-size="11" fill="#666" text-anchor="middle">3PM</text>
<text x="702.75" y="624.94" font-size="11" fill="#666" text-anchor="middle">4PM</text>
<text x="735.45" y="624.94" font-size="11" fill="#666" text-anchor="middle">5PM</text>
<text x="768.16" y="624.94" font-size="11" fill="#666" text-anchor="middle">6PM</text>
<text x="800.88" y="624.94" font-size="11" fill="#666" text-anchor="middle">7PM</text>
<text x="833.59" y="624.94" font-size="11" fill="#666" text-anchor="middle">8PM</text>
<rect x="392" y="634" width="33" height="29" fill="#f1f1f1"/>
<rect x="425" y="634" width="32" height="29" fill="#e1e1e1"/>
<rect x="457" y="634" width="33" height="29" fill="#9c9c9c"/>
<rect x="490" y="634" width="33" height="29" fill="#8a8a8a"/>
<rect x="523" y="634" width="33" height="29" fill="#7d7d7d"/>
<rect x="556" y="634" width="32" height="29" fill="#858585"/>
<rect x="588" y="634" width="33" height="29" fill="#949494"/>
<rect x="621" y="634" width="33" height="29" fill="#898989"/>
<rect x="654" y="634" width="32" height="29" fill="#858585"/>
<rect x="686" y="634" width="33" height="29" fill="#8a8a8a"/>
<rect x="719" y="634" width="33" height="29" fill="#d1d1d1"/>
<rect x="752" y="634" width="33" height="29" fill="#e8e8e8"/>
<rect x="785" y="634" width="32" height="29" fill="#efefef"/>
<rect x="817" y="634" width="33" height="29" fill="#f2f2f2"/>
<rect x="392" y="663" width="33" height="29" fill="#f1f1f1"/>
<rect x="425" y="663" width="32" height="29" fill="#dcdcdc"/>
<rect x="457" y="663" width="33" height="29" fill="#999999"/>
<rect x="490" y="663" width="33" height="29" fill="#858585"/>
<rect x="523" y="663" width="33" height="29" fill="#848484"/>
<rect x="556" y="663" width="32" height="29" fill="#858585"/>
<rect x="588" y="663" width="33" height="29" fill="#888888"/>
<rect x="621" y="663" width="33" height="29" fill="#878787"/>
<rect x="654" y="663" width="32" height="29" fill="#787878"/>
<rect x="686" y="663" width="33" height="29" fill="#8b8b8b"/>
<rect x="719" y="663" width="33" height="29" fill="#d4d4d4"/>
<rect x="752" y="663" width="33" height="29" fill="#f0f0f0"/>
<rect x="785" y="663" width="32" height="29" fill="#efefef"/>
<rect x="817" y="663" width="33" height="29" fill="#f2f2f2"/>
<rect x="392" y="692" width="33" height="29" fill="#f1f1f1"/>
<rect x="425" y="692" width="32" height="29" fill="#cacaca"/>
<rect x="457" y="692" width="33" height="29" fill="#9e9e9e"/>
<rect x="490" y="692" width="33" height="29" fill="#6f6f6f"/>
<rect x="523" y="692" width="33" height="29" fill="#6b6b6b"/>
<rect x="556" y="692" width="32" height="29" fill="#7b7b7b"/>
<rect x="588" y="692" width="33" height="29" fill="#858585"/>
<rect x="621" y="692" width="33" height="29" fill="#8b8b8b"/>
<rect x="654" y="692" width="32" height="29" fill="#7c7c7c"/>
<rect x="686" y="692" width="33" height="29" fill="#8d8d8d"/>
<rect x="719" y="692" width="33" height="29" fill="#d3d3d3"/>
<rect x="752" y="692" width="33" height="29" fill="#e9e9e9"/>
<rect x="785" y="692" width="32" height="29" fill="#efefef"/>
<rect x="817" y="692" width="33" height="29" fill="#f2f2f2"/>
<rect x="392" y="721" width="33" height="29" fill="#f1f1f1"/>
<rect x="425" y="721" width="32" height="29" fill="#dddddd"/>
<rect x="457" y="721" width="33" height="29" fill="#a6a6a6"/>
<rect x="490" y="721" width="33" height="29" fill="#929292"/>
<rect x="523" y="721" width="33" height="29" fill="#818181"/>
<rect x="556" y="721" width="32" height="29" fill="#9a9a9a"/>
<rect x="588" y="721" width="33" height="29" fill="#969696"/>
<rect x="621" y="721" width="33" height="29" fill="#8a8a8a"/>
<rect x="654" y="721" width="32" height="29" fill="#8a8a8a"/>
<rect x="686" y="721" width="33" height="29" fill="#9a9a9a"/>
<rect x="719" y="721" width="33" height="29" fill="#e1e1e1"/>
<rect x="752" y="721" width="33" height="29" fill="#e9e9e9"/>
<rect x="785" y="721" width="32" height="29" fill="#efefef"/>
<rect x="817" y="721" width="33" height="29" fill="#f2f2f2"/>
<rect x="392" y="750" width="33" height="29" fill="#f1f1f1"/>
<rect x="425" y="750" width="32" height="29" fill="#e2e2e2"/>
<rect x="457" y="750" width="33" height="29" fill="#a6a6a6"/>
<rect x="490" y="750" width="33" height="29" fill="#b1b1b1"/>
<rect x="523" y="750" width="33" height="29" fill="#808080"/>
<rect x="556" y="750" width="32" height="29" fill="#909090"/>
<rect x="588" y="750" width="33" height="29" fill="#8d8d8d"/>
<rect x="621" y="750" width="33" height="29" fill="#989898"/>
<rect x="654" y="750" width="32" height="29" fill="#989898"/>
<rect x="686" y="750" width="33" height="29" fill="#aeaeae"/>
<rect x="719" y="750" width="33" height="29" fill="#e2e2e2"/>
<rect x="752" y="750" width="33" height="29" fill="#ebebeb"/>
<rect x="785" y="750" width="32" height="29" fill="#f0f0f0"/>
<rect x="817" y="750" width="33" height="29" fill="#f2f2f2"/>
<text x="318" y="651.9" font-size="12" fill="#333">Monday</text>
<text x="318" y="680.9" font-size="12" fill="#333">Tuesday</text>
<text x="318" y="709.9" font-size="12" fill="#333">Wednesday</text>
<text x="318" y="738.9" font-size="12" fill="#333">Thursday</text>
<text x="318" y="767.9" font-size="12" fill="#333">Friday</text>
<text x="317" y="794.7" font-size="12" fill="#333">AVG/HR</text>
<text x="408" y="709.9" font-size="12" fill="#000" text-anchor="middle" font-weight="bold">1</text>
<text x="539.4" y="709.9" font-size="12" fill="#fff" text-anchor="middle" font-weight="bold">142</text>
<rect x="397" y="779" width="25" height="0.54" fill="#e6e6e6"/>
<rect x="429" y="779" width="25" height="13.41" fill="#e6e6e6"/>
<rect x="462" y="779" width="25" height="41.85" fill="#e6e6e6"/>
<rect x="494" y="779" width="25" height="54.73" fill="#e6e6e6"/>
<rect x="527" y="779" width="25" height="66" fill="#e6e6e6"/>
<rect x="559" y="779" width="25" height="57.42" fill="#e6e6e6"/>
<rect x="592" y="779" width="25" height="55.27" fill="#e6e6e6"/>
<rect x="624" y="779" width="25" height="55.27" fill="#e6e6e6"/>
<rect x="657" y="779" width="25" height="59.56" fill="#e6e6e6"/>
<rect x="689" y="779" width="25" height="49.9" fill="#e6e6e6"/>
<rect x="722" y="779" width="25" height="13.95" fill="#e6e6e6"/>
<rect x="754" y="779" width="25" height="5.37" fill="#e6e6e6"/>
<rect x="787" y="779" width="25" height="2.68" fill="#e6e6e6"/>
<text x="408.8" y="790.9" font-size="12" fill="#000" text-anchor="middle" font-weight="bold">1</text>
<text x="440.8" y="790.9" font-size="12" fill="#000" text-anchor="middle" font-weight="bold">25</text>
<text x="473.8" y="790.9" font-size="12" fill="#000" text-anchor="middle" font-weight="bold">78</text>
<text x="505.8" y="790.9" font-size="12" fill="#000" text-anchor="middle" font-weight="bold">102</text>
<text x="538.8" y="790.9" font-size="12" fill="#000" text-anchor="middle" font-weight="bold">123</text>
<text x="570.8" y="790.9" font-size="12" fill="#000" text-anchor="middle" font-weight="bold">107</text>
<text x="603.8" y="790.9" font-size="12" fill="#000" text-anchor="middle" font-weight="bold">103</text>
<text x="635.8" y="790.9" font-size="12" fill="#000" text-anchor="middle" font-weight="bold">103</text>
<text x="668.8" y="790.9" font-size="12" fill="#000" text-anchor="middle" font-weight="bold">111</text>
<text x="700.8" y="790.9" font-size="12" fill="#000" text-anchor="middle" font-weight="bold">93</text>
<text x="733.8" y="790.9" font-size="12" fill="#000" text-anchor="middle" font-weight="bold">26</text>
<text x="765.8" y="790.9" font-size="12" fill="#000" text-anchor="middle" font-weight="bold">10</text>
<text x="798.8" y="790.9" font-size="12" fill="#000" text-anchor="middle" font-weight="bold">5</text>
<rect x="851" y="638" width="65" height="22" fill="#e6e6e6"/>
<text x="855" y="650.64" font-size="11" fill="#000" font-weight="bold">917<tspan font-weight="normal" fill="#8a8a8a"> /day</tspan></text>
<rect x="851" y="667" width="67" height="22" fill="#e6e6e6"/>
<text x="855" y="679.64" font-size="11" fill="#000" font-weight="bold">941<tspan font-weight="normal" fill="#8a8a8a"> /day</tspan></text>
<rect x="851" y="696" width="71" height="22" fill="#e6e6e6"/>
<text x="855" y="708.64" font-size="11" fill="#000" font-weight="bold">1,003<tspan font-weight="normal" fill="#8a8a8a"> /day</tspan></text>
<rect x="851" y="725" width="59" height="22" fill="#e6e6e6"/>
<text x="855" y="737.64" font-size="11" fill="#000" font-weight="bold">822<tspan font-weight="normal" fill="#8a8a8a"> /day</tspan></text>
<rect x="851" y="754" width="39" height="22" fill="#e6e6e6"/>
<text x="855" y="766.64" font-size="11" fill="#000" font-weight="bold">544<tspan font-weight="normal" fill="#8a8a8a"> /day</tspan></text>
<text x="960.3" y="596.8" font-size="16" fill="#111" font-weight="bold">Client Issues</text>
<line x1="956" y1="610.5" x2="1152" y2="610.5" stroke="#d6d6d6" stroke-width="1"/>
<line x1="956" y1="633.5" x2="1152" y2="633.5" stroke="#d6d6d6" stroke-width="1"/>
<line x1="956" y1="655.5" x2="1152" y2="655.5" stroke="#d6d6d6" stroke-width="1"/>
<line x1="956" y1="678.5" x2="1152" y2="678.5" stroke="#d6d6d6" stroke-width="1"/>
<line x1="956" y1="700.5" x2="1152" y2="700.5" stroke="#d6d6d6" stroke-width="1"/>
<line x1="956" y1="723.5" x2="1152" y2="723.5" stroke="#d6d6d6" stroke-width="1"/>
<line x1="956" y1="745.5" x2="1152" y2="745.5" stroke="#d6d6d6" stroke-width="1"/>
<text x="962.2" y="625.85" font-size="13" fill="#333">Technical Issues</text>
<rect x="1072" y="616" width="35" height="11" fill="#8b2155"/>
<rect x="1147" y="616" width="2" height="11" fill="#000"/>
<text x="962.2" y="647.85" font-size="13" fill="#333">Internet Outage</text>
<rect x="1072" y="638" width="27" height="11" fill="#8b2155"/>
<rect x="1129" y="638" width="2" height="11" fill="#000"/>
<text x="962.2" y="670.85" font-size="13" fill="#333">Billing Questions</text>
<rect x="1072" y="661" width="20" height="11" fill="#8b2155"/>
<rect x="1116" y="661" width="2" height="11" fill="#000"/>
<text x="962.2" y="692.85" font-size="13" fill="#333">Product Issues</text>
<rect x="1072" y="683" width="8" height="11" fill="#8b2155"/>
<rect x="1089" y="683" width="2" height="11" fill="#000"/>
<text x="962.2" y="715.85" font-size="13" fill="#333">New Customer</text>
<rect x="1072" y="706" width="2" height="11" fill="#8b2155"/>
<rect x="1077" y="706" width="2" height="11" fill="#000"/>
<text x="962.2" y="737.85" font-size="13" fill="#333">Other</text>
<rect x="1072" y="728" width="1" height="11" fill="#8b2155"/>
<rect x="1073" y="728" width="2" height="11" fill="#000"/>
<text x="1077" y="762.54" font-size="11" fill="#9a9a9a" text-anchor="middle">0</text>
<text x="1115" y="762.54" font-size="11" fill="#9a9a9a" text-anchor="middle">5,000</text>
<text x="1186.7" y="596.5" font-size="16" fill="#111" font-weight="bold">Top Agents</text>
<text x="1371.2" y="595" font-size="13" fill="#222">TIC</text>
<text x="1439.6" y="595" font-size="13" fill="#222">AHT</text>
<text x="1512.1" y="595" font-size="13" fill="#222">FCR</text>
<line x1="1181" y1="610.5" x2="1565" y2="610.5" stroke="#d6d6d6" stroke-width="1"/>
<line x1="1181" y1="637.5" x2="1565" y2="637.5" stroke="#d6d6d6" stroke-width="1"/>
<line x1="1181" y1="664.5" x2="1565" y2="664.5" stroke="#d6d6d6" stroke-width="1"/>
<line x1="1181" y1="691.5" x2="1565" y2="691.5" stroke="#d6d6d6" stroke-width="1"/>
<line x1="1181" y1="718.5" x2="1565" y2="718.5" stroke="#d6d6d6" stroke-width="1"/>
<line x1="1181" y1="745.5" x2="1565" y2="745.5" stroke="#d6d6d6" stroke-width="1"/>
<text x="1187.4" y="628.25" font-size="13" fill="#333">1</text>
<text x="1207.2" y="628.25" font-size="13" fill="#333">Margarete Von Der Empten</text>
<rect x="1376" y="618" width="26" height="11" fill="#8b2155"/>
<rect x="1428" y="618" width="2" height="11" fill="#000"/>
<rect x="1439" y="618" width="32" height="11" fill="#8b2155"/>
<rect x="1471" y="618" width="2" height="11" fill="#000"/>
<rect x="1501" y="618" width="19" height="11" fill="#8b2155"/>
<rect x="1553" y="618" width="2" height="11" fill="#000"/>
<text x="1187.4" y="655.25" font-size="13" fill="#333">2</text>
<text x="1207.2" y="655.25" font-size="13" fill="#333">Anabel Grebert</text>
<rect x="1376" y="645" width="20" height="11" fill="#8b2155"/>
<rect x="1414" y="645" width="2" height="11" fill="#000"/>
<rect x="1439" y="645" width="37" height="11" fill="#8b2155"/>
<rect x="1481" y="645" width="2" height="11" fill="#000"/>
<rect x="1501" y="645" width="31" height="11" fill="#8b2155"/>
<rect x="1536" y="645" width="2" height="11" fill="#000"/>
<text x="1187.4" y="682.25" font-size="13" fill="#333">3</text>
<text x="1207.2" y="682.25" font-size="13" fill="#333">Fowler Gaines</text>
<rect x="1376" y="672" width="18" height="11" fill="#8b2155"/>
<rect x="1414" y="672" width="2" height="11" fill="#000"/>
<rect x="1439" y="672" width="59" height="11" fill="#45a999"/>
<rect x="1492" y="672" width="2" height="11" fill="#000"/>
<rect x="1501" y="672" width="10" height="11" fill="#8b2155"/>
<rect x="1525" y="672" width="2" height="11" fill="#000"/>
<text x="1187.4" y="709.25" font-size="13" fill="#333">4</text>
<text x="1207.2" y="709.25" font-size="13" fill="#333">Valentijn Lambdin</text>
<rect x="1376" y="699" width="17" height="11" fill="#8b2155"/>
<rect x="1400" y="699" width="2" height="11" fill="#000"/>
<rect x="1439" y="699" width="44" height="11" fill="#8b2155"/>
<rect x="1489" y="699" width="2" height="11" fill="#000"/>
<rect x="1501" y="699" width="8" height="11" fill="#8b2155"/>
<rect x="1515" y="699" width="2" height="11" fill="#000"/>
<text x="1187.4" y="736.25" font-size="13" fill="#333">5</text>
<text x="1207.2" y="736.25" font-size="13" fill="#333">Shellysheldon Soffe</text>
<rect x="1376" y="726" width="17" height="11" fill="#8b2155"/>
<rect x="1411" y="726" width="2" height="11" fill="#000"/>
<rect x="1439" y="726" width="40" height="11" fill="#8b2155"/>
<rect x="1482" y="726" width="2" height="11" fill="#000"/>
<rect x="1501" y="726" width="13" height="11" fill="#8b2155"/>
<rect x="1551" y="726" width="2" height="11" fill="#000"/>
<line x1="1376.5" y1="611" x2="1376.5" y2="745.5" stroke="#5a5a5a" stroke-width="1"/>
<line x1="1439.5" y1="611" x2="1439.5" y2="745.5" stroke="#5a5a5a" stroke-width="1"/>
<line x1="1501.5" y1="611" x2="1501.5" y2="745.5" stroke="#5a5a5a" stroke-width="1"/>
<text x="1380.6" y="762.84" font-size="11" fill="#9a9a9a" text-anchor="middle">0</text>
<text x="1403.2" y="762.84" font-size="11" fill="#9a9a9a" text-anchor="middle">1,000</text>
<text x="1443.7" y="762.84" font-size="11" fill="#9a9a9a" text-anchor="middle">0</text>
<text x="1461.6" y="762.84" font-size="11" fill="#9a9a9a" text-anchor="middle">200</text>
<text x="1485.7" y="762.84" font-size="11" fill="#9a9a9a" text-anchor="middle">400</text>
<text x="1506" y="762.84" font-size="11" fill="#9a9a9a" text-anchor="middle">0</text>
<text x="1537" y="762.84" font-size="11" fill="#9a9a9a" text-anchor="middle">500</text>
<text x="1206.3" y="803" font-size="12" fill="#666">Use the filters on the left pane</text>
<text x="1206.3" y="817" font-size="12" fill="#666">to explore top agents by the</text>
<text x="1206.3" y="830" font-size="12" fill="#666">different metrics.</text>
<text x="1563.3" y="803" font-size="12" fill="#666" text-anchor="end"><tspan font-weight="bold" fill="#555">TIC</tspan>- Total Incoming Calls</text>
<text x="1563.3" y="817" font-size="12" fill="#666" text-anchor="end"><tspan font-weight="bold" fill="#555">AHT</tspan> - Average Handle Time</text>
<text x="1563.3" y="830" font-size="12" fill="#666" text-anchor="end"><tspan font-weight="bold" fill="#555">FCR</tspan> - First Call Resolution</text>
</svg>
</body>
</html>
